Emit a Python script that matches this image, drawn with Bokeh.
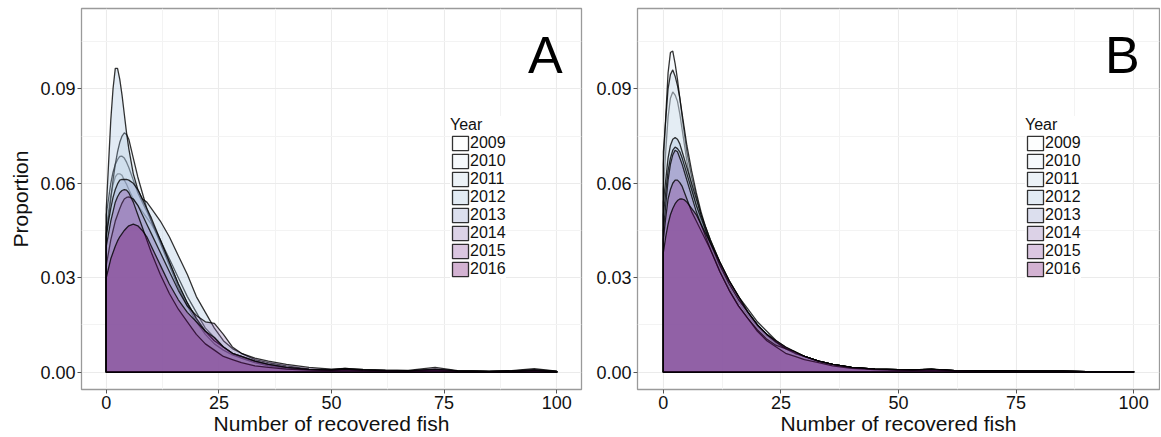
from bokeh.plotting import figure
from bokeh.models import (ColumnDataSource, Legend, LegendItem, FixedTicker, Range1d,
                          Label, NumeralTickFormatter)
from bokeh.layouts import row
from bokeh.embed import file_html
from bokeh.resources import INLINE

# ---------------- data ----------------
years = ["2009", "2010", "2011", "2012", "2013", "2014", "2015", "2016"]
fill_colors = ["#F7FCFD", "#E0ECF4", "#BFD3E6", "#9EBCDA", "#8C96C6", "#8C6BB1", "#88419D", "#6E016B"]

x_ticks = [0, 25, 50, 75, 100]
x_minor = [12.5, 37.5, 62.5, 87.5]
y_ticks = [0.0, 0.03, 0.06, 0.09]
y_minor = [0.015, 0.045, 0.075, 0.105]

fish = [0, 0.5, 1, 1.5, 2, 2.5, 3, 3.5, 4, 4.5, 5, 6, 7, 8, 9, 10, 12, 14, 16, 18, 20, 22, 24,
        26, 28, 30, 33, 36, 40, 45, 50, 53, 57, 62, 67, 73, 78, 85, 90, 95, 100]

# Panel A densities
a_2009 = [0.046, 0.051, 0.056, 0.0595, 0.062, 0.063, 0.063, 0.0625, 0.061, 0.0597, 0.058, 0.055, 0.053, 0.051, 0.049, 0.047, 0.042, 0.036, 0.030, 0.024, 0.019, 0.014, 0.011, 0.008, 0.006, 0.0045, 0.003, 0.002, 0.0013, 0.0008, 0.0006, 0.0008, 0.0006, 0.0004, 0.0003, 0.0006, 0.0003, 0.0002, 0.0002, 0.0004, 0.0002]
a_2010 = [0.050, 0.055, 0.060, 0.0635, 0.066, 0.0675, 0.0685, 0.0686, 0.068, 0.0667, 0.065, 0.061, 0.057, 0.054, 0.051, 0.048, 0.042, 0.035, 0.028, 0.022, 0.017, 0.013, 0.010, 0.008, 0.006, 0.005, 0.0035, 0.0025, 0.0015, 0.0009, 0.0007, 0.0009, 0.0006, 0.0005, 0.0004, 0.0008, 0.0003, 0.0002, 0.0003, 0.0006, 0.0002]
a_2011 = [0.044, 0.049, 0.055, 0.061, 0.066, 0.070, 0.073, 0.075, 0.076, 0.0755, 0.074, 0.068, 0.062, 0.057, 0.052, 0.048, 0.041, 0.034, 0.027, 0.021, 0.016, 0.012, 0.009, 0.007, 0.0055, 0.0045, 0.003, 0.002, 0.0012, 0.0008, 0.0006, 0.0008, 0.0005, 0.0004, 0.0003, 0.0007, 0.0003, 0.0002, 0.0003, 0.0005, 0.0002]
a_2012 = [0.052, 0.066, 0.080, 0.090, 0.0965, 0.0965, 0.093, 0.088, 0.082, 0.076, 0.071, 0.063, 0.058, 0.055, 0.054, 0.052, 0.048, 0.043, 0.037, 0.031, 0.024, 0.019, 0.014, 0.010, 0.0075, 0.006, 0.004, 0.003, 0.002, 0.001, 0.0008, 0.0012, 0.0008, 0.0005, 0.0004, 0.0009, 0.0004, 0.0003, 0.0004, 0.0008, 0.0003]
a_2013 = [0.043, 0.048, 0.052, 0.0555, 0.058, 0.0598, 0.061, 0.0612, 0.0612, 0.0612, 0.061, 0.060, 0.058, 0.055, 0.052, 0.049, 0.042, 0.035, 0.028, 0.022, 0.017, 0.013, 0.010, 0.008, 0.006, 0.005, 0.0035, 0.0025, 0.0015, 0.0009, 0.0007, 0.001, 0.0006, 0.0005, 0.0004, 0.0008, 0.0004, 0.0002, 0.0003, 0.0006, 0.0002]
a_2014 = [0.034, 0.038, 0.042, 0.045, 0.048, 0.050, 0.052, 0.0537, 0.055, 0.0555, 0.0557, 0.055, 0.053, 0.050, 0.047, 0.044, 0.038, 0.032, 0.026, 0.021, 0.018, 0.016, 0.0155, 0.012, 0.008, 0.006, 0.0045, 0.0035, 0.0025, 0.0015, 0.001, 0.0012, 0.0009, 0.0007, 0.0006, 0.0015, 0.0005, 0.0003, 0.0005, 0.0011, 0.0003]
a_2015 = [0.040, 0.044, 0.048, 0.051, 0.054, 0.0557, 0.057, 0.0577, 0.058, 0.0578, 0.057, 0.054, 0.050, 0.046, 0.042, 0.038, 0.031, 0.025, 0.020, 0.016, 0.012, 0.009, 0.007, 0.005, 0.004, 0.003, 0.002, 0.0015, 0.001, 0.0007, 0.0005, 0.0007, 0.0005, 0.0003, 0.0003, 0.0006, 0.0002, 0.0002, 0.0002, 0.0004, 0.0001]
a_2016 = [0.030, 0.033, 0.036, 0.038, 0.040, 0.0417, 0.043, 0.044, 0.045, 0.0458, 0.0465, 0.047, 0.0465, 0.045, 0.043, 0.040, 0.034, 0.028, 0.023, 0.019, 0.016, 0.013, 0.011, 0.008, 0.006, 0.005, 0.0035, 0.0025, 0.0015, 0.0009, 0.0007, 0.001, 0.0007, 0.0005, 0.0004, 0.001, 0.0004, 0.0002, 0.0003, 0.0007, 0.0002]

# Panel B densities
b_2009 = [0.058, 0.070, 0.081, 0.087, 0.089, 0.088, 0.086, 0.082, 0.077, 0.072, 0.067, 0.059, 0.053, 0.048, 0.044, 0.040, 0.033, 0.027, 0.022, 0.018, 0.0145, 0.0115, 0.009, 0.0075, 0.006, 0.005, 0.0035, 0.0025, 0.0015, 0.001, 0.0008, 0.0007, 0.0009, 0.0005, 0.0004, 0.0004, 0.0003, 0.0003, 0.0002, 0.0002, 0.0002]
b_2010 = [0.066, 0.081, 0.095, 0.1015, 0.102, 0.098, 0.093, 0.087, 0.081, 0.0755, 0.070, 0.062, 0.056, 0.050, 0.045, 0.041, 0.034, 0.028, 0.023, 0.019, 0.015, 0.012, 0.0095, 0.0075, 0.006, 0.005, 0.0035, 0.0025, 0.0015, 0.001, 0.0008, 0.0007, 0.001, 0.0005, 0.0004, 0.0004, 0.0003, 0.0003, 0.0002, 0.0002, 0.0002]
b_2011 = [0.070, 0.080, 0.090, 0.0945, 0.096, 0.094, 0.091, 0.087, 0.082, 0.077, 0.072, 0.064, 0.057, 0.051, 0.046, 0.042, 0.035, 0.029, 0.024, 0.019, 0.015, 0.012, 0.0095, 0.0075, 0.006, 0.005, 0.0035, 0.0025, 0.0015, 0.001, 0.0008, 0.0007, 0.0009, 0.0005, 0.0004, 0.0004, 0.0003, 0.0003, 0.0002, 0.0002, 0.0002]
b_2012 = [0.054, 0.061, 0.068, 0.072, 0.074, 0.0745, 0.074, 0.0725, 0.070, 0.0675, 0.065, 0.060, 0.055, 0.050, 0.046, 0.042, 0.035, 0.029, 0.024, 0.020, 0.016, 0.013, 0.010, 0.008, 0.0065, 0.005, 0.0035, 0.0025, 0.0015, 0.001, 0.0008, 0.0007, 0.0009, 0.0005, 0.0004, 0.0004, 0.0003, 0.0003, 0.0002, 0.0002, 0.0002]
b_2013 = [0.050, 0.057, 0.064, 0.068, 0.0705, 0.0715, 0.071, 0.070, 0.068, 0.0655, 0.063, 0.058, 0.053, 0.049, 0.045, 0.041, 0.034, 0.028, 0.023, 0.019, 0.015, 0.012, 0.0095, 0.0075, 0.006, 0.005, 0.0035, 0.0025, 0.0015, 0.001, 0.0008, 0.0007, 0.0009, 0.0005, 0.0004, 0.0004, 0.0003, 0.0003, 0.0002, 0.0002, 0.0002]
b_2014 = [0.045, 0.053, 0.061, 0.066, 0.069, 0.0705, 0.070, 0.068, 0.066, 0.0635, 0.061, 0.056, 0.051, 0.047, 0.043, 0.039, 0.032, 0.026, 0.021, 0.017, 0.0135, 0.0105, 0.0085, 0.0075, 0.0065, 0.005, 0.0035, 0.0025, 0.0015, 0.001, 0.0008, 0.0007, 0.0009, 0.0005, 0.0004, 0.0004, 0.0003, 0.0003, 0.0002, 0.0002, 0.0002]
b_2015 = [0.042, 0.049, 0.055, 0.058, 0.060, 0.061, 0.061, 0.0602, 0.059, 0.057, 0.055, 0.051, 0.048, 0.045, 0.042, 0.039, 0.032, 0.026, 0.021, 0.017, 0.013, 0.010, 0.008, 0.006, 0.005, 0.004, 0.003, 0.002, 0.0012, 0.0008, 0.0006, 0.0006, 0.0007, 0.0004, 0.0003, 0.0003, 0.0002, 0.0002, 0.0002, 0.0002, 0.0001]
b_2016 = [0.038, 0.043, 0.047, 0.050, 0.052, 0.0535, 0.0545, 0.055, 0.055, 0.0547, 0.054, 0.052, 0.050, 0.047, 0.044, 0.041, 0.035, 0.029, 0.024, 0.019, 0.015, 0.012, 0.010, 0.008, 0.0065, 0.005, 0.0035, 0.0025, 0.0015, 0.001, 0.0008, 0.0007, 0.001, 0.0005, 0.0004, 0.0004, 0.0003, 0.0003, 0.0002, 0.0002, 0.0002]

panel_a = [a_2009, a_2010, a_2011, a_2012, a_2013, a_2014, a_2015, a_2016]
panel_b = [b_2009, b_2010, b_2011, b_2012, b_2013, b_2014, b_2015, b_2016]

FONT = "Liberation Sans"


def make_panel(series, letter, show_ylabel, min_left, min_right, frame_w, legend_xy):
    p = figure(frame_width=frame_w, frame_height=381, output_backend="svg",
               toolbar_location=None, x_range=Range1d(-5.5, 105.5),
               y_range=Range1d(-0.0055, 0.1155),
               min_border_left=min_left, min_border_right=min_right,
               min_border_top=8, min_border_bottom=30)
    p.background_fill_color = "white"
    p.border_fill_color = "white"
    p.outline_line_color = "#9a9a9a"
    p.outline_line_width = 1.3

    items = []
    for yr, col, vals in zip(years, fill_colors, series):
        xs = [fish[0]] + fish + [fish[-1]]
        ys = [0.0] + vals + [0.0]
        src = ColumnDataSource(dict(x=xs, y=ys))
        r = p.patch("x", "y", source=src, fill_color=col, fill_alpha=0.3,
                    line_color="black", line_alpha=0.8, line_width=1.3)
        items.append(LegendItem(label=yr, renderers=[r]))

    leg = Legend(items=items, location=legend_xy, title="Year",
                 title_text_font=FONT, title_text_font_size="16px",
                 title_text_font_style="normal", title_text_color="#111111",
                 title_standoff=0,
                 label_text_font=FONT, label_text_font_size="16px",
                 label_text_color="#111111", label_standoff=0,
                 glyph_width=20, glyph_height=18, label_height=17,
                 spacing=0, padding=2, margin=0,
                 background_fill_color="white", background_fill_alpha=1.0,
                 border_line_color=None)
    p.add_layout(leg, "center")

    p.add_layout(Label(x=101.3, y=0.1006, text=letter, text_align="right",
                       text_baseline="alphabetic", text_font=FONT,
                       text_font_size="52px", text_color="black"))

    p.xaxis.ticker = FixedTicker(ticks=x_ticks, minor_ticks=x_minor)
    p.yaxis.ticker = FixedTicker(ticks=y_ticks, minor_ticks=y_minor)
    p.yaxis.formatter = NumeralTickFormatter(format="0.00")
    for ax in (p.xaxis[0], p.yaxis[0]):
        ax.axis_line_color = None
        ax.major_tick_line_color = "#555555"
        ax.major_tick_in = 0
        ax.major_tick_out = 4
        ax.minor_tick_line_color = None
        ax.major_label_text_font = FONT
        ax.major_label_text_font_size = "18px"
        ax.major_label_text_color = "#111111"
        ax.major_label_standoff = 2
        ax.axis_label_text_font = FONT
        ax.axis_label_text_font_size = "21px"
        ax.axis_label_text_font_style = "normal"
        ax.axis_label_text_color = "#111111"
    p.xaxis.axis_label = "Number of recovered fish"
    p.xaxis.axis_label_standoff = 0
    if show_ylabel:
        p.yaxis.axis_label = "Proportion"
        p.yaxis.axis_label_standoff = 5

    p.xgrid.grid_line_color = "#EBEBEB"
    p.ygrid.grid_line_color = "#EBEBEB"
    p.xgrid.grid_line_width = 1.1
    p.ygrid.grid_line_width = 1.1
    p.xgrid.minor_grid_line_color = "#F3F3F3"
    p.ygrid.minor_grid_line_color = "#F3F3F3"
    return p


pA = make_panel(panel_a, "A", True, 81, 9, 500, (369, 111))
pB = make_panel(panel_b, "B", False, 47, 1, 522, (388, 111))

layout = row(pA, pB)
open("out.html", "w").write(file_html(layout, INLINE))
